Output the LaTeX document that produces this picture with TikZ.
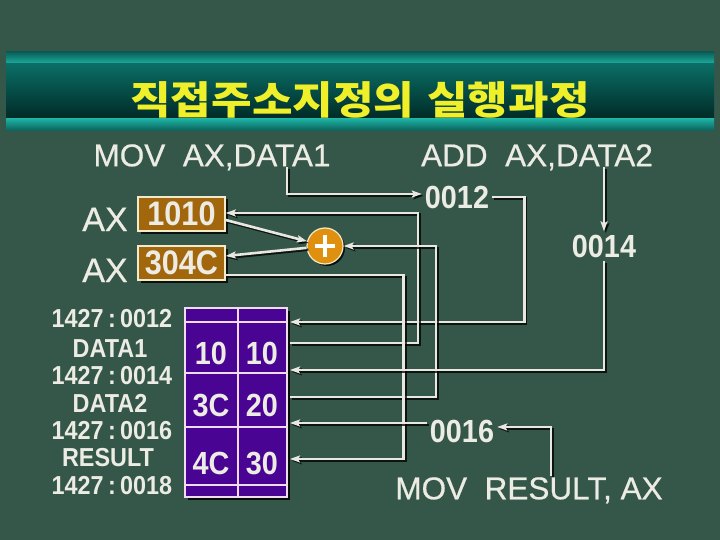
\documentclass[tikz,border=0pt]{standalone}
\usepackage{fontspec}
\setmainfont{Liberation Sans}
\newfontfamily\krfont{Noto Sans CJK KR}
\newfontfamily\condfont{Liberation Sans}[FakeStretch=0.9]
\newfontfamily\heavyfont{Liberation Sans}[FakeBold=0.6]
\usetikzlibrary{arrows.meta,shadows,calc}
\definecolor{bg}{HTML}{34574A}
\definecolor{tealbright}{HTML}{1DB0A2}
\definecolor{tealdark}{HTML}{0A5E58}
\definecolor{bandtop}{HTML}{0A6E66}
\definecolor{bandbot}{HTML}{012A26}
\definecolor{titleyellow}{HTML}{F0F02A}
\definecolor{txt}{HTML}{ECECE4}
\definecolor{linec}{HTML}{E8E8E0}
\definecolor{boxbrown}{HTML}{A2660C}
\definecolor{cream}{HTML}{F2EAC8}
\definecolor{plusorange}{HTML}{E0900F}
\definecolor{mempurple}{HTML}{4A0494}
\definecolor{memline}{HTML}{F0DCF0}
\tikzset{
  bigtxt/.style={text=txt, inner sep=3pt, text depth=0pt, text height=22.5pt, font=\heavyfont\fontsize{31.5}{34}\selectfont},
  numtxt/.style={text=txt, inner sep=3pt, text depth=0pt, text height=23pt, font=\condfont\bfseries\fontsize{32}{36}\selectfont},
  lbltxt/.style={text=txt, inner sep=1pt, text depth=0pt, text height=18.5pt, font=\condfont\bfseries\fontsize{26}{28}\selectfont},
  celltxt/.style={text=txt, inner sep=0pt, text depth=0pt, text height=23pt, font=\condfont\bfseries\fontsize{32}{36}\selectfont},
  axtxt/.style={text=txt, inner sep=0pt, text depth=0pt, text height=24pt, font=\heavyfont\fontsize{34}{38}\selectfont},
  regbox/.style={rectangle, fill=boxbrown, draw=cream, line width=1.5pt, minimum width=87pt, minimum height=34pt,
    inner sep=0pt, text=txt, font=\condfont\bfseries\fontsize{34}{38}\selectfont,
    drop shadow={shadow xshift=2.5pt, shadow yshift=-2.5pt, fill=black, opacity=0.8}},
  conn/.style={draw=linec, line width=2.6pt,
    preaction={draw=black, opacity=0.75, line width=2.6pt, transform canvas={shift={(1.8,1.8)}}}},
  arr/.style={-{Stealth[length=10pt,width=7pt,inset=2pt]}},
}
\begin{document}
\begin{tikzpicture}[x=1pt,y=-1pt]
\useasboundingbox (0,0) rectangle (720,540);
\fill[bg] (0,0) rectangle (720,540);
% title band
\shade[top color=tealdark, bottom color=tealbright] (6,52) rectangle (714,64);
\shade[top color=bandtop, bottom color=bandbot] (6,64) rectangle (714,119);
\shade[top color=tealbright, bottom color=tealdark] (6,119) rectangle (714,131);
\node[text=titleyellow, font=\krfont\bfseries\fontsize{39}{42}\selectfont, inner sep=0pt] (title) at (360,100)
  {\scalebox{1.13}[1]{직접주소지정의\hspace{0.3em}실행과정}};

% instructions
\node[bigtxt] (mov1) at (212,155) {MOV\hspace{0.28em} AX,DATA1};
\node[bigtxt] (add2) at (537,155) {ADD\hspace{0.28em} AX,DATA2};
\node[bigtxt] (mov3) at (529,488) {MOV\hspace{0.28em} RESULT, AX};

% addresses
\node[numtxt] (a0012) at (457,197) {0012};
\node[numtxt] (a0014) at (604,246) {0014};
\node[numtxt] (a0016) at (462,431) {0016};

% registers
\node[axtxt] (ax1) at (105,219) {AX};
\node[axtxt] (ax2) at (105,270) {AX};
\node[regbox] (box1) at (181.5,214) {1010};
\node[regbox] (box2) at (181.5,263) {304C};

% adder
\node[circle, fill=plusorange, draw=cream, line width=1.2pt, minimum size=36pt, inner sep=0pt,
  drop shadow={shadow xshift=2pt, shadow yshift=-2pt, fill=black, opacity=0.8}] (plus) at (325,246) {};
\draw[white, line width=3.2pt] ([xshift=-10pt]plus.center) -- ([xshift=10pt]plus.center)
  ([yshift=-11pt]plus.center) -- ([yshift=11pt]plus.center);

% memory
\node[rectangle, fill=mempurple, draw=memline, line width=1.8pt, minimum width=102pt, minimum height=189pt, inner sep=0pt,
  drop shadow={shadow xshift=3pt, shadow yshift=-3pt, fill=black, opacity=0.85}] (mem) at (236,402.5) {};
\draw[memline, line width=1.5pt] (185,322) -- (287,322) (185,373) -- (287,373) (185,427) -- (287,427) (185,485) -- (287,485) (238,308) -- (238,497);
\node[celltxt] (c1l) at (211,353) {10};
\node[celltxt] (c1r) at (262,353) {10};
\node[celltxt] (c2l) at (211,405) {3C};
\node[celltxt] (c2r) at (262,405) {20};
\node[celltxt] (c3l) at (211,463) {4C};
\node[celltxt] (c3r) at (262,463) {30};

% memory labels
\node[lbltxt] (l1) at (112,318) {1427\,:\,0012};
\node[lbltxt] (l2) at (110,348) {DATA1};
\node[lbltxt] (l3) at (112,375) {1427\,:\,0014};
\node[lbltxt] (l4) at (110,403) {DATA2};
\node[lbltxt] (l5) at (112,430) {1427\,:\,0016};
\node[lbltxt] (l6) at (108,457) {RESULT};
\node[lbltxt] (l7) at (112,485) {1427\,:\,0018};

% memory ports
\coordinate (m1) at (290,322);
\coordinate (m2) at (290,343);
\coordinate (m3) at (290,370);
\coordinate (m4) at (290,397);
\coordinate (m5) at (290,423);
\coordinate (m6) at (290,459);

% connectors
\draw[conn,arr] ([xshift=75pt,yshift=2pt]mov1.south) |- ([yshift=3pt]a0012.west);
\draw[conn,arr] ([yshift=0pt]a0012.east) -- ++(32,0) |- (m1);
\draw[conn,arr] (m2) -- ++(128,0) |- ([yshift=1pt]box1.east);
\draw[conn,arr] ([yshift=-6pt]box1.east) -- (plus);
\draw[conn,arr] (plus) -- ([yshift=7pt]box2.east);
\draw[conn,arr] (m4) -- ++(146,0) |- (plus.east);
\draw[conn,arr] ([yshift=-12pt]box2.east) -- ++(178,0) |- (m6);
\draw[conn,arr] ([yshift=2pt]a0014.north |- add2.south) -- (a0014.north);
\draw[conn,arr] (a0014.south) |- (m3);
\draw[conn,arr] ([xshift=22pt,yshift=-2pt]mov3.north) |- ([yshift=4pt]a0016.east);
\draw[conn,arr] (a0016.west |- m5) -- (m5);
\end{tikzpicture}
\end{document}
